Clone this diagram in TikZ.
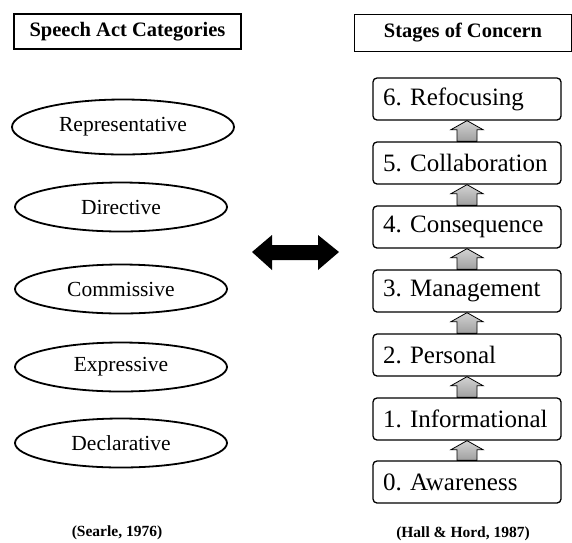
\documentclass[tikz,border=0pt]{standalone}
\usepackage{fontspec}
\setmainfont{Liberation Serif}
\usetikzlibrary{shapes.geometric}
\frenchspacing
\begin{document}
\begin{tikzpicture}[x=1pt,y=-1pt,
  titlebox/.style={draw, line width=1.3pt, minimum height=35pt, inner sep=0pt,
    font=\fontsize{20.5}{24}\selectfont\bfseries},
  category/.style={draw, ellipse, line width=1.8pt, inner sep=0pt,
    minimum width=212pt, minimum height=49pt, font=\fontsize{21.5}{24}\selectfont},
  stage/.style={draw, line width=1.3pt, rounded corners=4pt, inner sep=0pt,
    minimum width=188pt, minimum height=42pt, text width=168pt, align=left,
    font=\fontsize{25}{28}\selectfont},
  source/.style={inner sep=0pt, font=\fontsize{15.5}{18}\selectfont\bfseries},
  stepup/.style={top color=gray!35, bottom color=gray!75, draw=black,
    line width=0.8pt, line join=miter}
]
\useasboundingbox (0,0) rectangle (572,542);

% column headings
\node[titlebox, minimum width=227pt] (hleft) at (127.5,31.5) {Speech Act Categories};
\node[titlebox, minimum width=217pt, minimum height=37pt] (hright) at (463,33) {Stages of Concern};

% speech act categories
\node[category, minimum width=222pt, minimum height=55pt] (rep) at (123,127) {Representative};
\node[category] (dir) at (121,207) {Directive};
\node[category] (com) at (121,289) {Commissive};
\node[category] (exp) at (121,367) {Expressive};
\node[category] (dec) at (121,443) {Declarative};

% two-way relation between the columns
\coordinate (bl) at (252,252);
\coordinate (br) at (339,252);
\fill (bl) -- ++(20,-17) -- ++(0,10) -- ++(46,0) -- ++(0,-10) -- (br)
  -- ++(-21,18) -- ++(0,-10) -- ++(-46,0) -- ++(0,10) -- cycle;

% stages of concern
\node[stage] (s6) at (467,99)  {6. Refocusing};
\node[stage] (s5) at (467,163) {5. Collaboration};
\node[stage] (s4) at (467,227) {4. Consequence};
\node[stage] (s3) at (467,291) {3. Management};
\node[stage] (s2) at (467,355) {2. Personal};
\node[stage] (s1) at (467,419) {1. Informational};
\node[stage] (s0) at (467,482) {0. Awareness};

% small upward arrows between consecutive stages
\foreach \lo/\hi in {s0/s1, s1/s2, s2/s3, s3/s4, s4/s5, s5/s6} {
  \draw[stepup] (\hi.south) -- ++(16,9) -- ++(-6,0) |- (\lo.north) -- ++(-10,0)
    |- ([xshift=-16pt, yshift=-9pt]\hi.south) -- cycle;
}

% sources
\node[source] (src1) at (117,533) {(Searle, 1976)};
\node[source] (src2) at (463,534) {(Hall \& Hord, 1987)};
\end{tikzpicture}
\end{document}
